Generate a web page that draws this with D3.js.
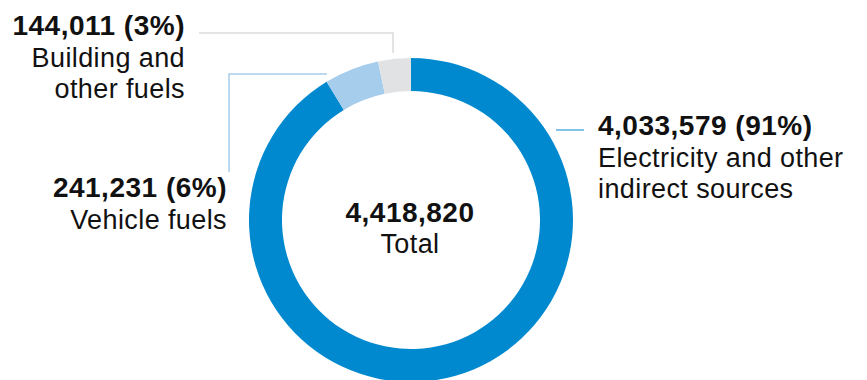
<!doctype html>
<html lang="en">
  <head>
    <meta charset="utf-8">
    <title>emissions donut</title>
    <script src="https://d3js.org/d3.v7.min.js"></script>
    <style>
      body { margin: 0; background: #fff; }
      svg text { font-family: "Liberation Sans", Arial, sans-serif; fill: #111; }
      .num { font-weight: bold; font-size: 28px; letter-spacing: 0.5px; }
      .lbl { font-size: 27px; letter-spacing: 0.4px; }
    </style>
  </head>
  <body>
    <svg></svg>
    <script>
      // data
      var categories = ["Electricity and other indirect sources", "Vehicle fuels", "Building and other fuels"];
      var values = [4033579, 241231, 144011];
      var percents = ["91%", "6%", "3%"];
      var colors = ["#0089cf", "#a7cdec", "#e1e2e4"];
      var total = 4418820;

      var width = 867, height = 380;
      var cx = 411, cy = 220, outerR = 162, innerR = 129;

      var svg = d3.select("svg")
        .attr("width", width)
        .attr("height", height);

      var pie = d3.pie().sort(null).value(function(d){ return d; });
      var arc = d3.arc().innerRadius(innerR).outerRadius(outerR);

      var g = svg.append("g").attr("transform", "translate(" + cx + "," + cy + ")");

      g.selectAll(".slice").data(pie(values)).enter()
        .append("path")
        .attr("class", "slice")
        .attr("fill", function(d, i){ return colors[i]; })
        .attr("d", arc);

      var fmt = d3.format(",");

      // leader lines + labels (label layout only)
      var labels = [
        { i: 0, anchor: "start", x: 598, y: 135, lines: ["Electricity and other", "indirect sources"],
          line: [[556, 130], [584, 130]], stroke: "#5aafe0" },
        { i: 1, anchor: "end", x: 227, y: 197, lines: ["Vehicle fuels"],
          line: [[327, 74], [229, 74], [229, 172]], stroke: "#a7cdec" },
        { i: 2, anchor: "end", x: 185, y: 35, lines: ["Building and", "other fuels"],
          line: [[199, 33], [393, 33], [393, 53]], stroke: "#dcdcdc" }
      ];

      labels.forEach(function(l){
        svg.append("path")
          .attr("d", d3.line()(l.line))
          .attr("fill", "none")
          .attr("stroke", l.stroke)
          .attr("stroke-width", 1.5);

        var t = svg.append("text")
          .attr("text-anchor", l.anchor)
          .attr("x", l.x)
          .attr("y", l.y);
        t.append("tspan").attr("class", "num")
          .text(fmt(values[l.i]) + " (" + percents[l.i] + ")");
        l.lines.forEach(function(s, k){
          t.append("tspan").attr("class", "lbl")
            .attr("x", l.x)
            .attr("dy", k == 0 ? 32 : 31)
            .text(s);
        });
      });

      // center total
      var c = svg.append("text")
        .attr("text-anchor", "middle")
        .attr("x", cx - 1)
        .attr("y", 222);
      c.append("tspan").attr("class", "num").text(fmt(total));
      c.append("tspan").attr("class", "lbl").attr("x", cx - 1).attr("dy", 31).text("Total");
    </script>
  </body>
</html>
